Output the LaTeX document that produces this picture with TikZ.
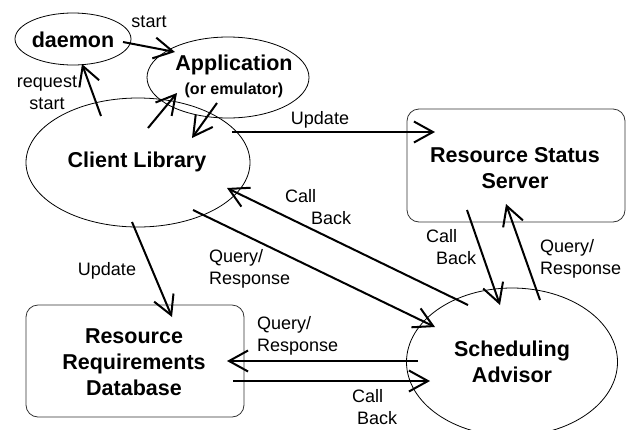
\documentclass[tikz,border=0pt]{standalone}
\usepackage{fontspec}
\setmainfont{Liberation Sans}
\usetikzlibrary{arrows.meta,shapes.geometric}
\tikzset{
  ell/.style={ellipse, draw, line width=0.8pt, inner sep=0pt},
  box/.style={rectangle, draw=black!80, line width=0.8pt, rounded corners=12pt, minimum width=218pt, minimum height=112pt, inner sep=0pt},
  title/.style={font=\fontsize{21.5}{26}\selectfont\bfseries, align=center, inner sep=0pt},
  lbl/.style={font=\fontsize{18}{21.5}\selectfont, inner sep=0pt},
  lbll/.style={lbl, align=left, anchor=west},
  arr/.style={line width=2pt, -{Straight Barb[length=19pt,width=21pt]}}
}
\begin{document}
\begin{tikzpicture}[x=1pt,y=-1pt]
\useasboundingbox (0,0) rectangle (631,429);
% shapes
\node[ell, minimum width=116pt, minimum height=52pt] (daemon) at (73,39) {};
\node[ell, minimum width=162pt, minimum height=81pt] (app) at (228,77.5) {};
\node[ell, minimum width=224pt, minimum height=129pt] (client) at (138,162.5) {};
\node[ell, minimum width=211pt, minimum height=148pt] (sa) at (512,362) {};
\node[box, minimum height=113pt] (rss) at (516,165.5) {};
\node[box] (rrd) at (135,361) {};
% titles
\node[title] (daemonT) at (73,40) {daemon};
\node[title] (appT) at (234,76) {Application\\[-2pt]{\fontsize{16}{18}\selectfont (or emulator)}};
\node[title] (clientT) at (137,162) {Client Library};
\node[title] (rssT) at (515,168) {Resource Status\\Server};
\node[title] (rrdT) at (134,362) {Resource\\Requirements\\Database};
\node[title] (saT) at (512,362) {Scheduling\\Advisor};
% arrow end points
\coordinate (dS) at (123,42);   \coordinate (aE) at (175,52);
\coordinate (cR) at (101,116);  \coordinate (dE) at (82,64);
\coordinate (cA) at (148,128);  \coordinate (aIn) at (177,93);
\coordinate (aC) at (217,103);  \coordinate (cIn) at (192,138);
\coordinate (cU) at (232,132);  \coordinate (rssIn) at (435,132);
\coordinate (saCB) at (468,305); \coordinate (cCB) at (227,188);
\coordinate (cQ) at (193,210);  \coordinate (saQ) at (435,327);
\coordinate (cU2) at (132,222); \coordinate (rrdU) at (172,317);
\coordinate (saQ2) at (418,361); \coordinate (rrdQ) at (227,361);
\coordinate (rrdCB) at (233,381); \coordinate (saCB2) at (430,381);
\coordinate (rssCB) at (467,210); \coordinate (saCB3) at (500,305);
\coordinate (saQ3) at (540,300); \coordinate (rssQ) at (506,204);
% connectors
\draw[arr] (dS) -- (aE);
\draw[arr] (cR) -- (dE);
\draw[arr] (cA) -- (aIn);
\draw[arr] (aC) -- (cIn);
\draw[arr] (cU) -- (rssIn);
\draw[arr] (saCB) -- (cCB);
\draw[arr] (cQ) -- (saQ);
\draw[arr] (cU2) -- (rrdU);
\draw[arr] (saQ2) -- (rrdQ);
\draw[arr] (rrdCB) -- (saCB2);
\draw[arr] (rssCB) -- (saCB3);
\draw[arr] (saQ3) -- (rssQ);
% labels
\node[lbl] (l1) at (149,22) {start};
\node[lbl, align=center] (l2) at (47,93) {request\\start};
\node[lbl] (l3) at (320,120) {Update};
\node[lbll] (l4) at (285,207) {Call\\\hspace*{26pt}Back};
\node[lbll] (l5) at (209,269) {Query/\\Response};
\node[lbl] (l6) at (107,271) {Update};
\node[lbll] (l7) at (257,336) {Query/\\Response};
\node[lbll] (l8) at (352,407) {Call\\\hspace*{5pt}Back};
\node[lbll] (l9) at (426,247) {Call\\\hspace*{10pt}Back};
\node[lbll] (l10) at (540,259) {Query/\\Response};
\end{tikzpicture}
\end{document}
